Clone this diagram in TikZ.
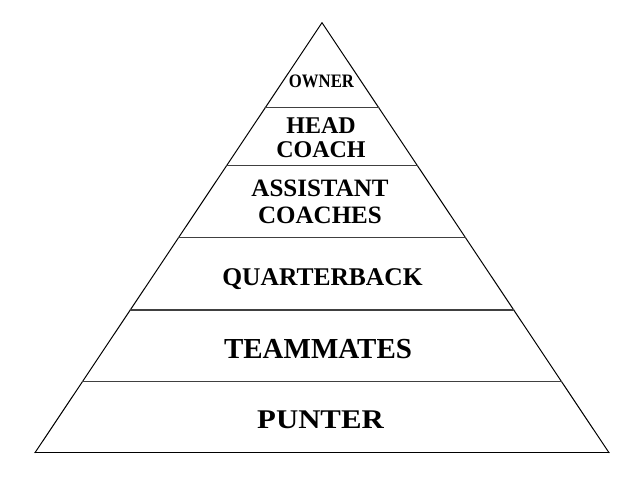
\documentclass[tikz,border=0pt]{standalone}
\usepackage{fontspec}
\setmainfont{Liberation Serif}
\usetikzlibrary{calc}

\begin{document}
\begin{tikzpicture}[line cap=round,line join=round,x=1pt,y=-1pt,
  tier/.style={line width=1.2pt,color=black!75},
  word/.style={inner sep=0pt,align=center}]
\useasboundingbox (0,0) rectangle (634,480);
\fill [white] (0,0) rectangle (634,480);
\coordinate (top) at (322,22.7);
\coordinate (bl) at (35,452.7);
\coordinate (br) at (609,452.7);
\draw [line width=1pt] (bl)-- (top);
\draw [line width=1pt] (top)-- (br);
\draw [line width=1.3pt] (bl)-- (br);
\draw [tier] ($(top)!0.1977!(bl)$)-- ($(top)!0.1977!(br)$);
\draw [tier] ($(top)!0.3326!(bl)$)-- ($(top)!0.3326!(br)$);
\draw [tier] ($(top)!0.5!(bl)$)-- ($(top)!0.5!(br)$);
\draw [tier] ($(top)!0.668!(bl)$)-- ($(top)!0.668!(br)$);
\draw [tier] ($(top)!0.835!(bl)$)-- ($(top)!0.835!(br)$);
\draw (321.5,87) node[word,anchor=base,font=\fontsize{19}{19}\selectfont\bfseries] (owner) {\scalebox{0.88}[1]{OWNER}};
\draw (321,137.5) node[word,font=\fontsize{24}{23.5}\selectfont\bfseries] (headcoach) {HEAD\\COACH};
\draw (320,202) node[word,font=\fontsize{25}{27.3}\selectfont\bfseries] (assistants) {ASSISTANT\\COACHES};
\draw (322.5,285) node[word,anchor=base,font=\fontsize{25.5}{25.5}\selectfont\bfseries] (qb) {QUARTERBACK};
\draw (318,358.3) node[word,anchor=base,font=\fontsize{29}{29}\selectfont\bfseries] (mates) {TEAMMATES};
\draw (320.5,428) node[word,anchor=base,font=\fontsize{27}{27}\selectfont\bfseries] (punter) {\scalebox{1.14}[1]{PUNTER}};
\end{tikzpicture}
\end{document}
